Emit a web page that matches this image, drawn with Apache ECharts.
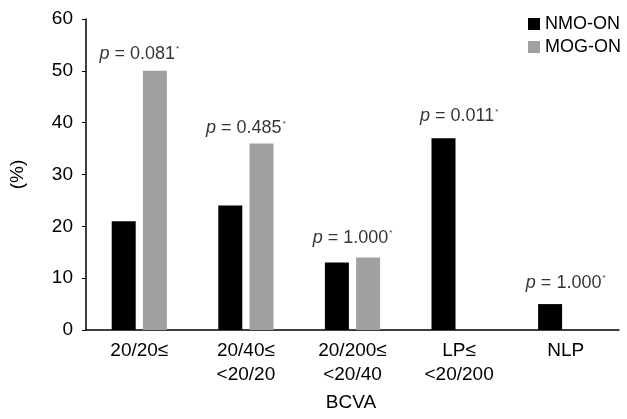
<!DOCTYPE html>
<html><head><meta charset="utf-8">
<script src="https://cdn.jsdelivr.net/npm/echarts@6/dist/echarts.min.js"></script>
<style>html,body{margin:0;padding:0;background:#fff}#c{width:627px;height:419px}</style>
</head><body><div id="c"></div>
<script>
const categories = ['20/20≤', '20/40≤\n<20/20', '20/200≤\n<20/40', 'LP≤\n<20/200', 'NLP'];
const nmoOn = [21, 24, 13, 37, 5];
const mogOn = [50, 36, 14, 0, 0];
const pValues = ['0.081', '0.485', '1.000', '0.011', '1.000'];
// annotation heights (in % units), one per category
const pLabelY = [53.2, 38.9, 17.8, 41.2, 9.1];
const yTicks = [0, 10, 20, 30, 40, 50, 60];

const FONT = '"Liberation Sans", Arial, sans-serif';
const chart = echarts.init(document.getElementById('c'), null, {renderer: 'canvas'});

chart.setOption({
  animation: false,
  textStyle: {fontFamily: FONT},
  grid: {left: 83, right: 8, top: 19, bottom: 89, containLabel: false},
  legend: {
    orient: 'vertical', left: 523, top: 10, itemWidth: 12, itemHeight: 12, itemGap: 5,
    data: ['NMO-ON', 'MOG-ON'], icon: 'rect',
    textStyle: {fontSize: 18, color: '#000', fontFamily: FONT, padding: [0, 0, 0, 0]}
  },
  xAxis: {
    type: 'category', data: categories, boundaryGap: true,
    axisLine: {show: true, lineStyle: {color: '#000', width: 1.5}},
    axisTick: {show: false},
    splitLine: {show: false},
    axisLabel: {fontSize: 19, color: '#000', lineHeight: 24, margin: 9, fontFamily: FONT, interval: 0}
  },
  yAxis: {
    type: 'value', min: yTicks[0], max: yTicks[yTicks.length - 1], interval: 10,
    name: '(%)', nameLocation: 'middle', nameGap: 59, nameRotate: 90,
    nameTextStyle: {fontSize: 19, color: '#000', fontFamily: FONT},
    axisLine: {show: true, lineStyle: {color: '#000', width: 1.5}},
    axisTick: {show: true, length: 4, lineStyle: {color: '#000'}},
    splitLine: {show: false},
    axisLabel: {fontSize: 19, color: '#000', margin: 13, fontFamily: FONT}
  },
  graphic: [{
    type: 'text', x: 351, y: 403,
    style: {text: 'BCVA', font: '19px ' + FONT, fill: '#000', textAlign: 'center', textVerticalAlign: 'middle'}
  }],
  series: [
    {name: 'NMO-ON', type: 'bar', barWidth: 24, barGap: '30%',
     itemStyle: {color: '#000'}, data: nmoOn},
    {name: 'MOG-ON', type: 'bar', barWidth: 24, barGap: '30%',
     itemStyle: {color: '#a0a0a0'}, data: mogOn},
    {name: 'p', type: 'scatter', symbolSize: 0, silent: true,
     data: pValues.map((p, i) => [i, pLabelY[i]]),
     label: {
       show: true, position: 'inside', color: '#000', fontFamily: FONT,
       formatter: params => '{i|p}{n| = ' + pValues[params.dataIndex] + '}{s|*}',
       rich: {
         i: {fontStyle: 'italic', fontSize: 18, color: '#000', fontFamily: FONT},
         n: {fontSize: 18, color: '#000', fontFamily: FONT},
         s: {fontSize: 8, color: '#000', verticalAlign: 'top', fontFamily: FONT, padding: [0, 0, 10, 1]}
       }
     }}
  ]
});
</script></body></html>
